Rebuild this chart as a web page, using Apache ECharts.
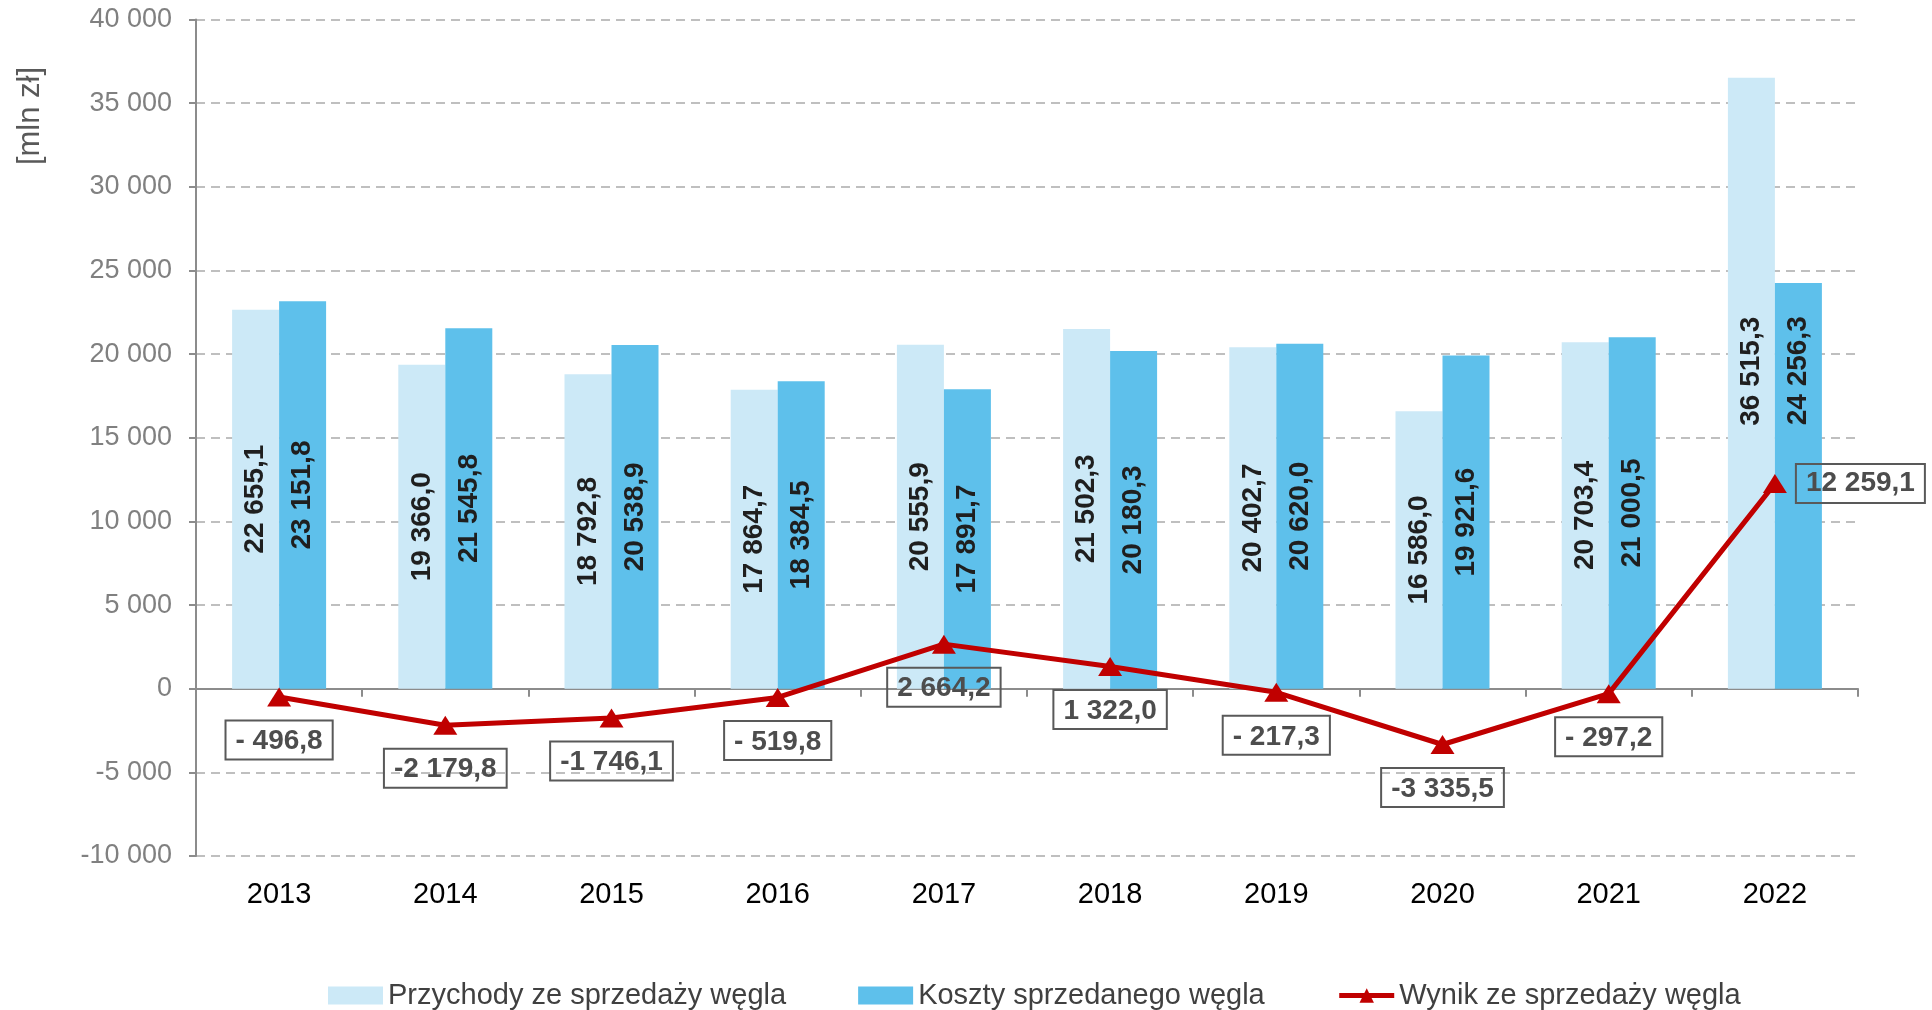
<!DOCTYPE html>
<html>
<head>
<meta charset="utf-8">
<script src="https://cdn.jsdelivr.net/npm/echarts@6/dist/echarts.min.js"></script>
<style>
  html, body { margin: 0; padding: 0; background: #fff; }
  #chart { width: 1932px; height: 1010px; }
</style>
</head>
<body>
<div id="chart"></div>
<script>
const years = ['2013', '2014', '2015', '2016', '2017', '2018', '2019', '2020', '2021', '2022'];
const revenue = [22655.1, 19366.0, 18792.8, 17864.7, 20555.9, 21502.3, 20402.7, 16586.0, 20703.4, 36515.3];
const costs = [23151.8, 21545.8, 20538.9, 18384.5, 17891.7, 20180.3, 20620.0, 19921.6, 21000.5, 24256.3];
const result = [-496.8, -2179.8, -1746.1, -519.8, 2664.2, 1322.0, -217.3, -3335.5, -297.2, 12259.1];

const seriesNames = ['Przychody ze sprzedaży węgla', 'Koszty sprzedanego węgla', 'Wynik ze sprzedaży węgla'];

// liczby w formacie "12 345,6"
function fmt(v) {
  const parts = Math.abs(v).toFixed(1).split('.');
  return parts[0].replace(/\B(?=(\d{3})+(?!\d))/g, ' ') + ',' + parts[1];
}
function fmtResult(v) {
  if (v < 0) return (Math.abs(v) < 1000 ? '- ' : '-') + fmt(v);
  return fmt(v);
}
function fmtAxis(v) {
  const s = String(Math.abs(v)).replace(/\B(?=(\d{3})+(?!\d))/g, ' ');
  return v < 0 ? '-' + s : s;
}

const barLabel = {
  show: true,
  position: 'inside',
  rotate: 90,
  fontFamily: 'Liberation Sans',
  fontWeight: 'bold',
  fontSize: 28,
  color: '#1f1f1f',
  formatter: (p) => fmt(p.value)
};

// ostatni rok: etykiety przesunięte wyżej (offset w układzie obróconym)
const revenueData = revenue.map((v, i) => i === 9 ? { value: v, label: { offset: [12, 0] } } : v);
const costsData = costs.map((v, i) => i === 9 ? { value: v, label: { offset: [115, 0] } } : v);
const resultData = result.map((v, i) => i === 9 ? { value: v, label: { position: 'right', distance: 9 } } : v);

const chart = echarts.init(document.getElementById('chart'));
chart.setOption({
  animation: false,
  textStyle: { fontFamily: 'Liberation Sans' },
  grid: { left: 196, right: 74, top: 19.5, bottom: 154, containLabel: false },
  legend: {
    left: 323,
    top: 976,
    itemWidth: 55,
    itemHeight: 18,
    itemGap: 72,
    textStyle: { fontSize: 29, color: '#404040', fontFamily: 'Liberation Sans' },
    lineStyle: { width: 5 },
    data: [
      { name: seriesNames[0], icon: 'rect' },
      { name: seriesNames[1], icon: 'rect' },
      { name: seriesNames[2] }
    ]
  },
  graphic: [{
    type: 'text',
    x: 30,
    y: 116,
    rotation: Math.PI / 2,
    style: {
      text: '[mln zł]',
      font: '31px "Liberation Sans"',
      fill: '#595959',
      align: 'center',
      verticalAlign: 'middle'
    }
  }],
  xAxis: [{
    type: 'category',
    data: years,
    position: 'bottom',
    axisLine: { onZero: true, lineStyle: { color: '#8c8c8c', width: 2 } },
    axisTick: { show: true, length: 8, lineStyle: { color: '#8c8c8c', width: 2 } },
    axisLabel: { show: false }
  }, {
    type: 'category',
    data: years,
    position: 'bottom',
    axisLine: { show: false, onZero: false },
    axisTick: { show: false },
    axisLabel: { margin: 24, fontSize: 29, color: '#000' }
  }],
  yAxis: {
    type: 'value',
    min: -10000,
    max: 40000,
    interval: 5000,
    axisLine: { show: true, lineStyle: { color: '#8c8c8c', width: 2 } },
    axisTick: { show: true, length: 7, lineStyle: { color: '#8c8c8c', width: 2 } },
    axisLabel: { margin: 24, fontSize: 27, color: '#808080', formatter: fmtAxis },
    splitLine: { lineStyle: { color: '#bfbfbf', width: 2, type: [9, 6] } }
  },
  series: [{
    name: seriesNames[0],
    type: 'bar',
    barWidth: 47,
    barGap: 0,
    itemStyle: { color: '#cce9f7' },
    label: barLabel,
    data: revenueData
  }, {
    name: seriesNames[1],
    type: 'bar',
    barWidth: 47,
    barGap: 0,
    itemStyle: { color: '#5ec0eb' },
    label: barLabel,
    data: costsData
  }, {
    name: seriesNames[2],
    type: 'line',
    z: 5,
    symbol: 'triangle',
    symbolSize: [24, 19],
    lineStyle: { color: '#c00000', width: 5 },
    itemStyle: { color: '#c00000' },
    label: {
      show: true,
      position: 'bottom',
      distance: 14,
      fontFamily: 'Liberation Sans',
      fontWeight: 'bold',
      fontSize: 28,
      color: '#4d4d4d',
      borderColor: '#595959',
      borderWidth: 2,
      padding: [7, 10, 4, 10],
      formatter: (p) => fmtResult(p.value)
    },
    data: resultData
  }]
});
</script>
</body>
</html>
